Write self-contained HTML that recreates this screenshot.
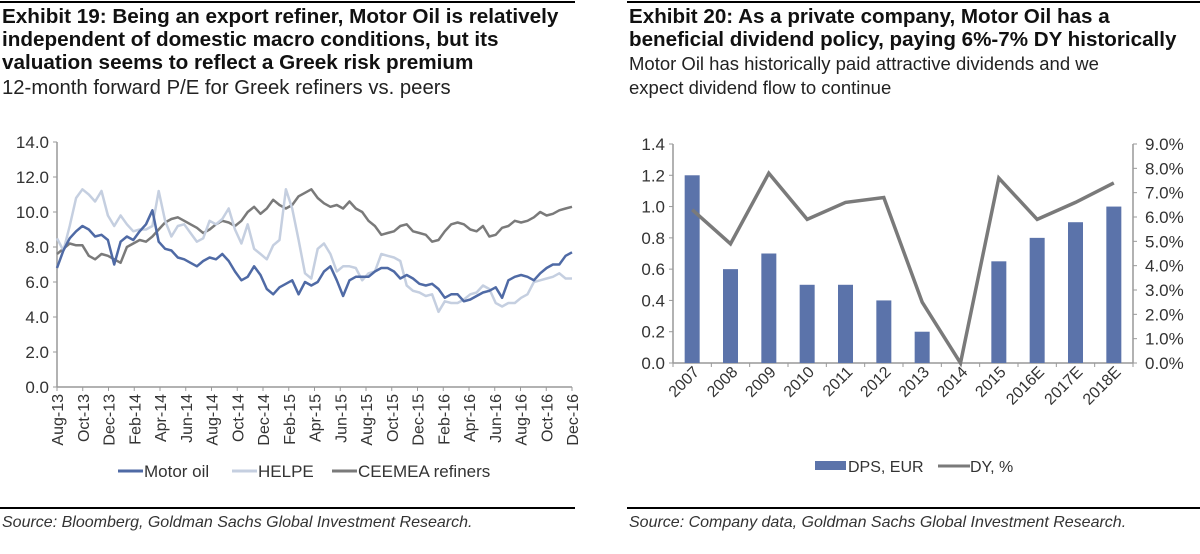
<!DOCTYPE html>
<html><head><meta charset="utf-8">
<style>
body{margin:0;background:#fff;width:1200px;height:549px;overflow:hidden;font-family:"Liberation Sans",sans-serif;}
svg text{font-family:"Liberation Sans",sans-serif;}
</style></head>
<body>
<svg id="svg" width="1200" height="549" viewBox="0 0 1200 549" xmlns="http://www.w3.org/2000/svg">
<line x1="0" y1="2" x2="575" y2="2" stroke="#000" stroke-width="2"/>
<line x1="627" y1="2" x2="1200" y2="2" stroke="#000" stroke-width="2"/>
<g font-weight="bold" font-size="20.7" fill="#111">
<text x="2" y="23">Exhibit 19: Being an export refiner, Motor Oil is relatively</text>
<text x="2" y="46">independent of domestic macro conditions, but its</text>
<text x="2" y="69">valuation seems to reflect a Greek risk premium</text>
</g>
<text x="2" y="94" font-size="20.3" fill="#222">12-month forward P/E for Greek refiners vs. peers</text>
<g font-weight="bold" font-size="20.6" fill="#111">
<text x="629" y="23">Exhibit 20: As a private company, Motor Oil has a</text>
<text x="629" y="46">beneficial dividend policy, paying 6%-7% DY historically</text>
</g>
<g font-size="18.5" fill="#222">
<text x="629" y="70">Motor Oil has historically paid attractive dividends and we</text>
<text x="629" y="94">expect dividend flow to continue</text>
</g>
<g id="left"></g>
<g id="right"></g>
<line x1="0" y1="508" x2="575" y2="508" stroke="#000" stroke-width="2"/>
<line x1="627" y1="508" x2="1200" y2="508" stroke="#000" stroke-width="2"/>
<text x="2" y="527" font-size="16" font-style="italic" fill="#333">Source: Bloomberg, Goldman Sachs Global Investment Research.</text>
<text x="629" y="527" font-size="16" font-style="italic" fill="#333">Source: Company data, Goldman Sachs Global Investment Research.</text>
</svg>
<script>
const monthLabels=["Aug-13","Oct-13","Dec-13","Feb-14","Apr-14","Jun-14","Aug-14","Oct-14","Dec-14","Feb-15","Apr-15","Jun-15","Aug-15","Oct-15","Dec-15","Feb-16","Apr-16","Jun-16","Aug-16","Oct-16","Dec-16"];
const peTicks=[0,2,4,6,8,10,12,14];
const motorOil=[6.8,7.8,8.5,8.9,9.2,9.0,8.6,8.7,8.4,7.0,8.3,8.6,8.4,8.9,9.3,10.1,8.3,7.9,7.8,7.4,7.3,7.1,6.9,7.2,7.4,7.3,7.6,7.2,6.6,6.1,6.3,6.9,6.4,5.6,5.3,5.7,5.9,6.1,5.3,6.0,5.8,6.0,6.6,6.9,6.1,5.2,6.1,6.3,6.3,6.3,6.6,6.8,6.8,6.6,6.2,6.4,6.2,5.9,5.8,5.9,5.6,5.1,5.3,5.3,4.9,5.0,5.2,5.4,5.5,5.7,5.1,6.1,6.3,6.4,6.3,6.1,6.5,6.8,7.0,7.0,7.5,7.7];
const helpe=[8.5,7.8,9.2,10.8,11.3,11.0,10.6,11.2,9.8,9.2,9.8,9.3,8.9,9.0,9.0,9.2,11.2,9.5,8.6,9.2,9.3,8.8,8.3,8.5,9.5,9.3,9.6,10.2,9.0,8.2,9.3,7.9,7.6,7.3,8.1,8.4,11.3,10.2,8.4,6.5,6.2,7.9,8.2,7.6,6.6,6.9,6.9,6.8,6.1,6.5,6.6,7.6,7.5,7.4,7.2,5.8,5.5,5.4,5.2,5.3,4.3,4.9,4.8,4.8,5.0,5.3,5.4,5.8,5.6,4.8,4.6,4.8,4.8,5.1,5.3,6.0,6.1,6.2,6.3,6.5,6.2,6.2];
const ceemea=[7.6,7.9,8.2,8.1,8.1,7.5,7.3,7.6,7.5,7.3,7.1,8.0,8.2,8.4,8.3,8.6,9.0,9.4,9.6,9.7,9.5,9.3,9.1,8.8,9.0,9.3,9.5,9.4,9.2,9.5,10.0,10.3,9.9,10.2,10.7,10.4,10.2,10.4,10.9,11.1,11.3,10.8,10.5,10.3,10.4,10.2,10.6,10.2,10.0,9.5,9.2,8.7,8.8,8.9,9.2,9.3,8.9,8.8,8.7,8.3,8.4,8.9,9.3,9.4,9.3,9.0,8.9,9.2,8.6,8.7,9.1,9.2,9.5,9.4,9.5,9.7,10.0,9.8,9.9,10.1,10.2,10.3];
const years=["2007","2008","2009","2010","2011","2012","2013","2014","2015","2016E","2017E","2018E"];
const dps=[1.2,0.6,0.7,0.5,0.5,0.4,0.2,0,0.65,0.8,0.9,1.0];
const dy=[6.3,4.9,7.8,5.9,6.6,6.8,2.5,0,7.6,5.9,6.6,7.4];
const dpsTicks=[0,0.2,0.4,0.6,0.8,1.0,1.2,1.4];
const dyTicks=[0,1,2,3,4,5,6,7,8,9];

const NS="http://www.w3.org/2000/svg";
function mk(parent,tag,attrs,text){const e=document.createElementNS(NS,tag);for(const k in attrs)e.setAttribute(k,attrs[k]);if(text!==undefined)e.textContent=text;parent.appendChild(e);return e;}

const L=document.getElementById('left');
const lx0=57,lx1=572,ly0=387,ly1=142;
const lxM=m=>lx0+(lx1-lx0)*m/40;
const lY=v=>ly0-(ly0-ly1)*v/14;
let e=mk(L,'line',{x1:lx0,y1:ly1,x2:lx0,y2:ly0,stroke:'#999','stroke-width':1.5});

e=mk(L,'line',{x1:lx0,y1:ly0,x2:lx1,y2:ly0,stroke:'#999','stroke-width':1.5});

peTicks.forEach(t=>{
  const y=lY(t);
  mk(L,'line',{x1:lx0-4,y1:y,x2:lx0,y2:y,stroke:'#999'});
  const tx=mk(L,'text',{x:lx0-8,y:y+6,'text-anchor':'end','font-size':17,fill:'#333'},t.toFixed(1));
  
});
monthLabels.forEach((lab,i)=>{
  const x=lxM(i*2);
  mk(L,'line',{x1:x,y1:ly0,x2:x,y2:ly0+4,stroke:'#999'});
  const tx=mk(L,'text',{x:0,y:0,'text-anchor':'end','font-size':16,fill:'#333',transform:`translate(${x+6},${ly0+7}) rotate(-90)`},lab);
  
});
function series(arr,color,name){
  const pts=arr.map((v,i)=>`${lxM(i*40/(arr.length-1)).toFixed(1)},${lY(v).toFixed(1)}`).join(' ');
  const p=mk(L,'polyline',{points:pts,fill:'none',stroke:color,'stroke-width':2.5,'stroke-linejoin':'round'});
  
}
series(ceemea,'#7a7a7a','ceemea-line');
series(helpe,'#c5cfe0','helpe-line');
series(motorOil,'#4f6aa5','motor-oil-line');
const legL=[['Motor oil','#4f6aa5',118],['HELPE','#c5cfe0',232],['CEEMEA refiners','#7a7a7a',332]];
legL.forEach(([n,c,x])=>{
  const g=mk(L,'g',{});
  
  mk(g,'line',{x1:x,y1:471,x2:x+25,y2:471,stroke:c,'stroke-width':3});
  mk(g,'text',{x:x+26,y:477,'font-size':17,fill:'#333'},n);
});

const R=document.getElementById('right');
const rx0=673,rx1=1133,ry0=363,ry1=144;
const step=(rx1-rx0)/12;
const rX=i=>rx0+step*(i+0.5);
const rY=v=>ry0-(ry0-ry1)*v/1.4;
const rY2=v=>ry0-(ry0-ry1)*v/9;
e=mk(R,'line',{x1:rx0,y1:ry1,x2:rx0,y2:ry0,stroke:'#999','stroke-width':1.5});

e=mk(R,'line',{x1:rx1,y1:ry1,x2:rx1,y2:ry0,stroke:'#999','stroke-width':1.5});

e=mk(R,'line',{x1:rx0,y1:ry0,x2:rx1,y2:ry0,stroke:'#999','stroke-width':1.5});

dpsTicks.forEach(t=>{
  const y=rY(t);
  mk(R,'line',{x1:rx0-4,y1:y,x2:rx0,y2:y,stroke:'#999'});
  const tx=mk(R,'text',{x:rx0-8,y:y+6,'text-anchor':'end','font-size':17,fill:'#333'},t.toFixed(1));
  
});
dyTicks.forEach(t=>{
  const y=rY2(t);
  mk(R,'line',{x1:rx1,y1:y,x2:rx1+4,y2:y,stroke:'#999'});
  const tx=mk(R,'text',{x:rx1+12,y:y+6,'font-size':17,fill:'#333'},t.toFixed(1)+'%');
  
});
for(let i=0;i<=12;i++){mk(R,'line',{x1:rx0+step*i,y1:ry0,x2:rx0+step*i,y2:ry0+4,stroke:'#999'});}
years.forEach((y,i)=>{
  const b=mk(R,'rect',{x:rX(i)-7.5,y:rY(dps[i]),width:15,height:ry0-rY(dps[i]),fill:'#5b73aa'});
  
  const tx=mk(R,'text',{x:0,y:0,'text-anchor':'end','font-size':16,fill:'#333',transform:`translate(${rX(i)+8},${ry0+10}) rotate(-45)`},y);
  
});
const dyPts=dy.map((v,i)=>`${rX(i).toFixed(1)},${rY2(v).toFixed(1)}`).join(' ');
e=mk(R,'polyline',{points:dyPts,fill:'none',stroke:'#7a7a7a','stroke-width':3.5,'stroke-linejoin':'miter'});

let g=mk(R,'g',{});

mk(g,'rect',{x:815,y:461,width:31,height:9,fill:'#5b73aa'});
mk(g,'text',{x:848,y:472,'font-size':16,fill:'#333'},'DPS, EUR');
g=mk(R,'g',{});

mk(g,'line',{x1:938,y1:466,x2:970,y2:466,stroke:'#7a7a7a','stroke-width':3});
mk(g,'text',{x:970,y:472,'font-size':16,fill:'#333'},'DY, %');
</script>
</body></html>
